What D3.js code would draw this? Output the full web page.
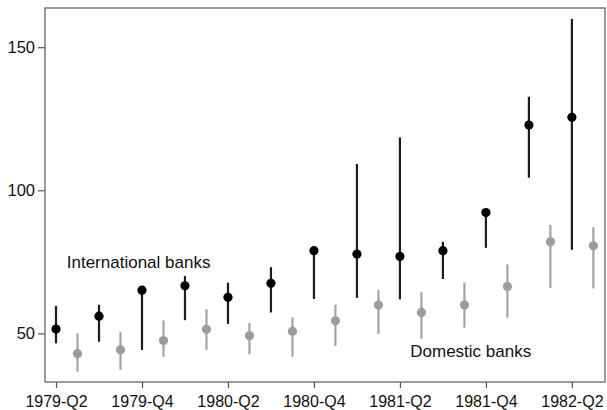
<!DOCTYPE html>
<html>
<head>
<meta charset="utf-8">
<script src="https://cdn.jsdelivr.net/npm/d3@7"></script>
<style>
  body { margin: 0; background: #fff; }
  text { font-family: Arial, "Liberation Sans", sans-serif; }
</style>
</head>
<body>
<svg id="chart" width="607" height="410"></svg>
<script>
// quarters 1979-Q2 .. 1982-Q2
const quarters = ["1979-Q2", "1979-Q3", "1979-Q4", "1980-Q1", "1980-Q2", "1980-Q3", "1980-Q4",
  "1981-Q1", "1981-Q2", "1981-Q3", "1981-Q4", "1982-Q1", "1982-Q2"];
const tickLabels = ["1979-Q2", "1979-Q4", "1980-Q2", "1980-Q4", "1981-Q2", "1981-Q4", "1982-Q2"];
const yTicks = [50, 100, 150];

// international banks: estimate with low / high bound
const intlMid = [51.5, 56.0, 65.1, 66.6, 62.6, 67.5, 78.9, 77.7, 76.9, 78.9, 92.2, 122.8, 125.5];
const intlLo = [46.5, 47.1, 44.2, 54.6, 53.3, 57.3, 62.0, 62.4, 61.9, 69.0, 79.9, 104.4, 79.2];
const intlHi = [59.6, 60.0, 65.1, 70.0, 67.7, 73.1, 78.9, 109.2, 118.5, 82.0, 92.2, 132.7, 159.9];

// domestic banks
const domMid = [42.9, 44.3, 47.5, 51.4, 49.2, 50.7, 54.4, 59.9, 57.3, 59.9, 66.4, 82.0, 80.6];
const domLo = [36.6, 37.3, 41.8, 44.3, 42.7, 41.8, 45.6, 49.8, 48.1, 52.0, 55.5, 65.9, 65.7];
const domHi = [50.0, 50.5, 54.5, 58.4, 53.6, 55.6, 60.0, 65.2, 64.4, 67.7, 74.1, 87.9, 87.1];

const plotLeft = 45, plotRight = 605, plotTop = 8, plotBottom = 382;

const svg = d3.select("#chart");

const x = d3.scaleLinear().domain([-0.256, 12.77]).range([plotLeft, plotRight]);
const y = d3.scaleLinear().domain([33, 163.7]).range([plotBottom, plotTop]);

// frame
svg.append("rect")
  .attr("x", plotLeft).attr("y", plotTop)
  .attr("width", plotRight - plotLeft).attr("height", plotBottom - plotTop)
  .attr("fill", "none").attr("stroke", "#666").attr("stroke-width", 1.3);

const yAxis = d3.axisLeft(y).tickValues(yTicks).tickSize(7).tickPadding(3);
const gy = svg.append("g").attr("transform", `translate(${plotLeft},0)`).call(yAxis);
gy.select(".domain").remove();
gy.selectAll("line").attr("stroke", "#555").attr("stroke-width", 1.2);
gy.selectAll("text").attr("font-size", 16.5).attr("fill", "#111")
  .attr("font-family", "Arial, 'Liberation Sans', sans-serif");

const xAxis = d3.axisBottom(x)
  .tickValues(tickLabels.map(t => quarters.indexOf(t)))
  .tickFormat(i => quarters[i])
  .tickSize(6).tickPadding(8);
const gx = svg.append("g").attr("transform", `translate(0,${plotBottom})`).call(xAxis);
gx.select(".domain").remove();
gx.selectAll("line").attr("stroke", "#555").attr("stroke-width", 1.2);
gx.selectAll("text").attr("font-size", 16).attr("fill", "#111")
  .attr("font-family", "Arial, 'Liberation Sans', sans-serif");

function drawSeries(mid, lo, hi, offset, lineColor, dotColor) {
  const g = svg.append("g");
  const idx = d3.range(mid.length);
  g.selectAll("line").data(idx).join("line")
    .attr("x1", i => x(i + offset)).attr("x2", i => x(i + offset))
    .attr("y1", i => y(lo[i])).attr("y2", i => y(hi[i]))
    .attr("stroke", lineColor).attr("stroke-width", 2.2);
  g.selectAll("circle").data(idx).join("circle")
    .attr("cx", i => x(i + offset)).attr("cy", i => y(mid[i]))
    .attr("r", 4.6).attr("fill", dotColor);
}

drawSeries(domMid, domLo, domHi, 0.5, "#a3a3a3", "#9c9c9c");
drawSeries(intlMid, intlLo, intlHi, 0, "#1c1c1c", "#000");

svg.append("text").attr("x", x(0.25)).attr("y", y(73))
  .attr("font-size", 17).attr("fill", "#111").text("International banks");
svg.append("text").attr("x", x(8.24)).attr("y", y(41.6))
  .attr("font-size", 17).attr("fill", "#111").text("Domestic banks");
</script>
</body>
</html>
